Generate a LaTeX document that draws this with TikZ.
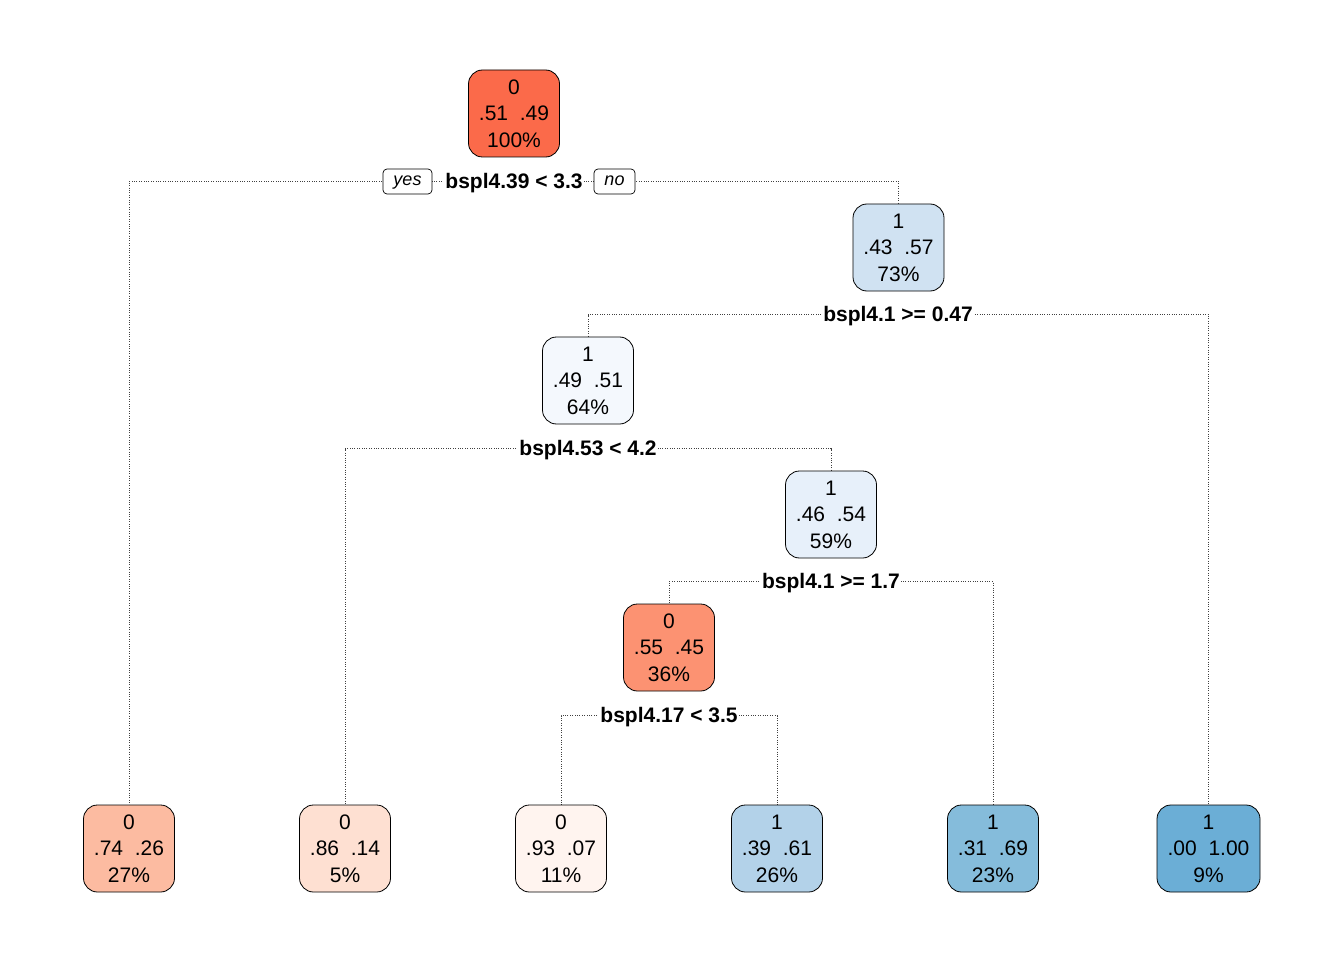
\documentclass[tikz,border=0pt]{standalone}
\usepackage{fontspec}
\setmainfont{Liberation Sans}
\usetikzlibrary{backgrounds}
\definecolor{cR0}{RGB}{251,106,74}
\definecolor{cR1}{RGB}{252,146,114}
\definecolor{cR2}{RGB}{252,187,161}
\definecolor{cR3}{RGB}{254,224,210}
\definecolor{cR4}{RGB}{255,244,239}
\definecolor{cB0}{RGB}{244,248,253}
\definecolor{cB1}{RGB}{231,240,250}
\definecolor{cB2}{RGB}{208,226,242}
\definecolor{cB3}{RGB}{179,210,233}
\definecolor{cB4}{RGB}{133,188,219}
\definecolor{cB5}{RGB}{107,174,214}
\newcommand{\probs}[2]{#1\hspace{0.56em}#2}
\tikzset{
  treebox/.style={draw=black, line width=0.8pt, rounded corners=14pt,
    minimum width=91pt, minimum height=87pt, inner sep=0pt, align=center,
    font=\fontsize{21}{26.5}\selectfont,
    execute at begin node=\rule{0pt}{20pt}},
  splitlabel/.style={fill=white, inner xsep=1pt, inner ysep=1pt,
    font=\fontsize{21}{25}\selectfont\bfseries},
  tagbox/.style={draw=black, line width=0.7pt, fill=white, rounded corners=4pt,
    minimum height=25pt, inner sep=0pt, text height=11pt, text depth=3pt,
    font=\fontsize{18}{20}\selectfont\itshape},
  link/.style={draw=black!75, line width=0.7pt, dash pattern=on 0.8pt off 1.6pt}
}
\begin{document}
\begin{tikzpicture}[x=1pt, y=-1pt]
\useasboundingbox (0,0) rectangle (1344,960);

% inner nodes
\node[treebox, fill=cR0] (n1) at (514,113.5) {0\\\probs{.51}{.49}\\100\%};
\node[treebox, fill=cB2] (n2) at (898.5,247.5) {1\\\probs{.43}{.57}\\73\%};
\node[treebox, fill=cB0] (n4) at (588,380.5) {1\\\probs{.49}{.51}\\64\%};
\node[treebox, fill=cB1] (n9) at (831,514.5) {1\\\probs{.46}{.54}\\59\%};
\node[treebox, fill=cR1] (n18) at (669,647.5) {0\\\probs{.55}{.45}\\36\%};

% leaves
\node[treebox, fill=cR2] (l1) at (129,848.5) {0\\\probs{.74}{.26}\\27\%};
\node[treebox, fill=cR3] (l2) at (345,848.5) {0\\\probs{.86}{.14}\\5\%};
\node[treebox, fill=cR4] (l3) at (561,848.5) {0\\\probs{.93}{.07}\\11\%};
\node[treebox, fill=cB3] (l4) at (777,848.5) {1\\\probs{.39}{.61}\\26\%};
\node[treebox, fill=cB4] (l5) at (993,848.5) {1\\\probs{.31}{.69}\\23\%};
\node[treebox, fill=cB5, minimum width=103pt] (l6) at (1208.5,848.5) {1\\\probs{.00}{1.00}\\9\%};

% split conditions
\node[splitlabel] (s1) at (514,183) {bspl4.39 < 3.3};
\node[tagbox, minimum width=49pt] (yes) at (407.5,181.5) {yes};
\node[tagbox, minimum width=41pt] (no) at (614.5,181.5) {no};
\node[splitlabel] (s2) at (898,316) {bspl4.1 >= 0.47};
\node[splitlabel] (s4) at (588,450) {bspl4.53 < 4.2};
\node[splitlabel] (s9) at (831,583) {bspl4.1 >= 1.7};
\node[splitlabel] (s18) at (669,717) {bspl4.17 < 3.5};

% connectors
\begin{scope}[on background layer]
\draw[link] (s1.center) ++(0,-1.5) coordinate (j1) (j1) -| (l1.north);
\draw[link] (j1) -| (n2.north);
\draw[link] (s2.center) ++(0,-1.5) coordinate (j2) (j2) -| (n4.north);
\draw[link] (j2) -| (l6.north);
\draw[link] (s4.center) ++(0,-1.5) coordinate (j4) (j4) -| (l2.north);
\draw[link] (j4) -| (n9.north);
\draw[link] (s9.center) ++(0,-1.5) coordinate (j9) (j9) -| (n18.north);
\draw[link] (j9) -| (l5.north);
\draw[link] (s18.center) ++(0,-1.5) coordinate (j18) (j18) -| (l3.north);
\draw[link] (j18) -| (l4.north);
\end{scope}
\end{tikzpicture}
\end{document}
